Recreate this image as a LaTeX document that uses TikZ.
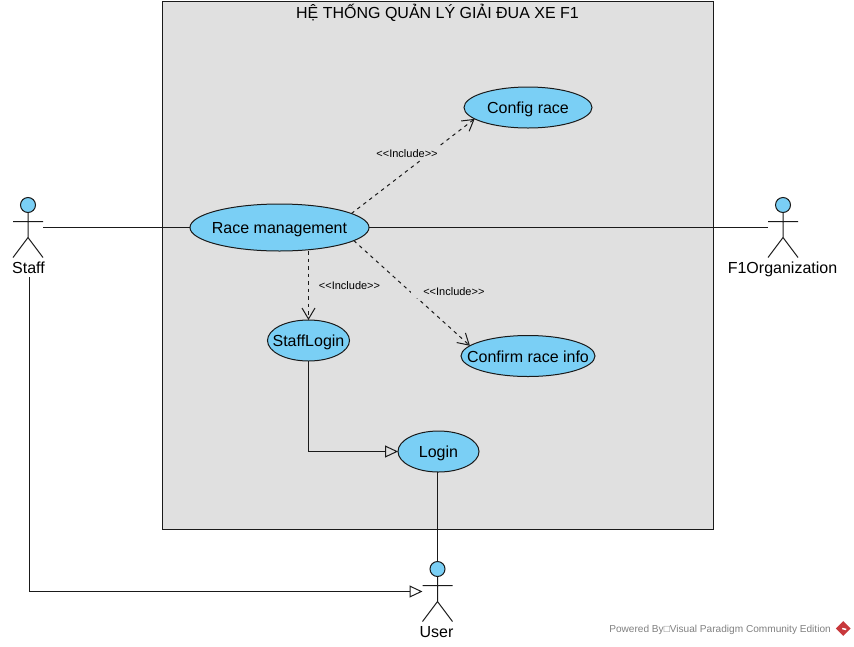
\documentclass[tikz,border=0pt]{standalone}
\usepackage{fontspec}
\setmainfont{Liberation Sans}
\usepackage{xcolor}
\definecolor{caseBlue}{HTML}{7ACFF5}
\definecolor{systemGray}{HTML}{E0E0E0}
\definecolor{lineDark}{HTML}{1A1A1A}
\definecolor{markGray}{HTML}{808080}
\definecolor{markRed}{HTML}{C8383C}
\usetikzlibrary{
    shapes.geometric,
    arrows.meta,
    positioning
}
\newcommand{\casetext}[1]{\raisebox{-6.3pt}[0pt][0pt]{\makebox[0pt]{#1}}}
\tikzset{
    % Base style for use case ellipses
    usecase/.style={
        ellipse,
        draw=lineDark,
        line width=1pt,
        fill=caseBlue,
        inner sep=0pt,
        outer sep=0pt,
        text=black,
        font=\fontsize{16}{19}\selectfont,
    },
    % System boundary
    system box/.style={
        rectangle,
        draw=lineDark,
        line width=1pt,
        fill=systemGray,
        minimum width=551pt,
        minimum height=528pt,
    },
    % Invisible box round a stick figure
    actor/.style={
        rectangle,
        inner sep=0pt,
        outer sep=0pt,
        minimum width=30pt,
        minimum height=61pt,
    },
    actor label/.style={
        font=\fontsize{16}{19}\selectfont,
        inner sep=0pt,
        text=black,
    },
    % Stick figure
    pics/stickman/.style={
        code={
            \draw [line width=1pt, draw=lineDark, fill=caseBlue] (0,-22.5) circle (7.5pt);
            \draw [line width=1pt, draw=lineDark] (0,-15) -- (0,10) (-15,-6) -- (15,-6) (-15,30) -- (0,10) -- (15,30);
        }
    },
    % Connector styles
    assoc/.style={line width=1pt, draw=lineDark},
    include/.style={
        -{Straight Barb[length=11pt, width=13pt]},
        line width=1pt,
        draw=lineDark,
        dash pattern=on 3.5pt off 4pt,
    },
    generalize/.style={
        -{Triangle[open, length=13pt, width=12pt]},
        line width=1pt,
        draw=lineDark,
    },
    include label/.style={
        font=\fontsize{11}{13}\selectfont,
        inner sep=0pt,
        text=black,
    },
}
\begin{document}
\begin{tikzpicture}[x=1pt, y=-1pt]
    \useasboundingbox (0,0) rectangle (854,646);

    \node (system) [system box] at (437.5,265) {};
    \node (title) [actor label, below=3.5pt of system.north] {HỆ THỐNG QUẢN LÝ GIẢI ĐUA XE F1};

    \node (race) [usecase, minimum width=179pt, minimum height=47pt] at (279.5,227.5) {\casetext{Race management}};
    \node (staffLogin) [usecase, minimum width=82pt, minimum height=41pt, below of=race, node distance=113pt, xshift=29pt] {\casetext{StaffLogin}};
    \node (login) [usecase, minimum width=81pt, minimum height=41pt, below of=staffLogin, node distance=111pt, xshift=130pt] {\casetext{Login}};
    \node (config) [usecase, minimum width=128pt, minimum height=41pt, above of=race, node distance=120pt, xshift=248.5pt] {\casetext{Config race}};
    \node (confirm) [usecase, minimum width=134pt, minimum height=41pt, right of=staffLogin, node distance=219.5pt, yshift=-15.5pt] {\casetext{Confirm race info}};

    \node (staff) [actor] at (28,227.5) {};
    \node (organization) [actor] at (783,227.5) {};
    \node (user) [actor] at (437.5,591.5) {};
    \foreach \who in {staff,organization,user}
        \pic at (\who) {stickman};

    \node (staffLabel) [actor label, below=4pt of staff.south, xshift=0.5pt] {Staff};
    \node (organizationLabel) [actor label, below=4pt of organization.south, xshift=-0.5pt] {F1Organization};
    \node (userLabel) [actor label, below=4pt of user.south, xshift=-1pt] {User};

    \draw [assoc] (staff) -- (race);
    \draw [assoc] (race) -- (organization);
    \draw [assoc] (user.north |- login.south) -- (user.north);

    \draw [include] (race.11) -- node (configInclude) [include label, fill=systemGray, inner sep=3pt, xshift=-6pt, yshift=13pt] {<{}<Include>{}>} (config.192);
    \draw [include] (race.south -| staffLogin.north) -- node (loginInclude) [include label, xshift=41pt] {<{}<Include>{}>} (staffLogin.north);
    \draw [include] (race.-10) -- node (confirmInclude) [include label, fill=systemGray, inner xsep=12pt, inner ysep=3pt, xshift=42pt, yshift=2pt] {<{}<Include>{}>} (confirm.170);

    \draw [generalize] (staffLogin.south) |- (login.west);
    \draw [generalize] ([xshift=1pt, yshift=-3pt]staffLabel.south) |- (user.west);

    \node (powered) [font=\fontsize{10.1}{12}\selectfont, text=markGray, inner sep=0pt, anchor=east] at (831,630) {Powered By□Visual Paradigm Community Edition};
    \node (logo) [diamond, fill=markRed, inner sep=0pt, minimum size=15pt, right=4.5pt of powered, yshift=1.5pt] {};
    \draw [white, line width=1.5pt] ([xshift=-1pt]logo.center) -- ([xshift=3pt, yshift=-1pt]logo.center);
\end{tikzpicture}
\end{document}
